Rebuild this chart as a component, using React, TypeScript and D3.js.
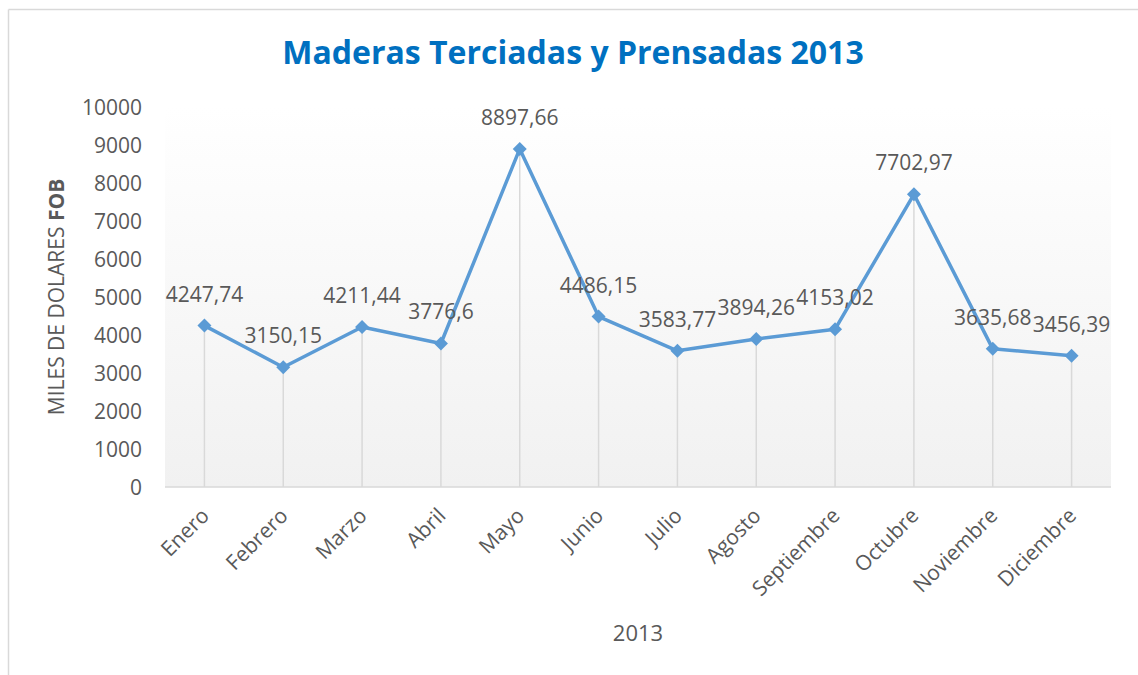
import React from 'react';
import { scaleBand, scaleLinear, line, range } from 'd3';

const months = ['Enero', 'Febrero', 'Marzo', 'Abril', 'Mayo', 'Junio', 'Julio', 'Agosto', 'Septiembre', 'Octubre', 'Noviembre', 'Diciembre'];
const values = [4247.74, 3150.15, 4211.44, 3776.6, 8897.66, 4486.15, 3583.77, 3894.26, 4153.02, 7702.97, 3635.68, 3456.39];
const yTicks = range(0, 10001, 1000);
const title = 'Maderas Terciadas y Prensadas 2013';
const xTitle = '2013';

const App = () => {
  const width = 1138;
  const height = 675;
  const plot = { left: 165, right: 1111, top: 107, bottom: 487 };
  const font = "'Open Sans', sans-serif";
  const blue = '#5b9bd5';
  const textColor = '#595959';

  const x = scaleBand().domain(months).range([plot.left, plot.right]);
  const cx = (m) => x(m) + x.bandwidth() / 2;
  const y = scaleLinear().domain([0, 10000]).range([plot.bottom, plot.top]);

  const pts = months.map((m, i) => ({ m, v: values[i] }));
  const path = line().x((d) => cx(d.m)).y((d) => y(d.v))(pts);

  return (
    <svg width={width} height={height} style={{ position: 'absolute', left: 0, top: 0, background: '#fff' }} fontFamily={font}>
      <defs>
        <linearGradient id="plotBg" x1="0" y1="0" x2="0" y2="1">
          <stop offset="0" stopColor="#ffffff" />
          <stop offset="1" stopColor="#f1f1f1" />
        </linearGradient>
      </defs>
      {/* chart border */}
      <line x1={8.5} y1={9.5} x2={width} y2={9.5} stroke="#d9d9d9" strokeWidth={1.5} />
      <line x1={8.5} y1={9.5} x2={8.5} y2={height} stroke="#d9d9d9" strokeWidth={1.5} />

      <text x={573} y={64} textAnchor="middle" fontSize={32} fontWeight="bold" fill="#0070c0">{title}</text>

      <rect x={plot.left} y={plot.top} width={plot.right - plot.left} height={plot.bottom - plot.top} fill="url(#plotBg)" />

      {/* y ticks */}
      {yTicks.map((t) => (
        <text key={t} x={142} y={y(t)} dy="0.36em" textAnchor="end" fontSize={21} fill={textColor}>{t}</text>
      ))}

      {/* drop lines */}
      {pts.map((d) => (
        <line key={d.m} x1={cx(d.m)} x2={cx(d.m)} y1={y(d.v)} y2={plot.bottom} stroke="#d9d9d9" strokeWidth={1.5} />
      ))}

      <line x1={plot.left} x2={plot.right} y1={plot.bottom} y2={plot.bottom} stroke="#d9d9d9" strokeWidth={1.5} />

      <path d={path} fill="none" stroke={blue} strokeWidth={3.5} strokeLinejoin="round" />
      {pts.map((d) => (
        <path key={d.m} transform={`translate(${cx(d.m)},${y(d.v)})`} d="M0,-7 L7,0 L0,7 L-7,0 Z" fill={blue} />
      ))}

      {/* data labels */}
      {pts.map((d) => (
        <text key={d.m} x={cx(d.m)} y={y(d.v) - 24} textAnchor="middle" fontSize={21} fill={textColor}>{String(d.v).replace('.', ',')}</text>
      ))}

      {/* x labels */}
      {months.map((m) => (
        <text key={m} transform={`translate(${cx(m) + 6},${plot.bottom + 30}) rotate(-45)`} textAnchor="end" fontSize={21} fill={textColor}>{m}</text>
      ))}

      <text x={638} y={641} textAnchor="middle" fontSize={22} fill={textColor}>{xTitle}</text>

      <text transform={`translate(64,297) rotate(-90)`} textAnchor="middle" fontSize={21} fill={textColor}>
        MILES DE DOLARES <tspan fontWeight="bold">FOB</tspan>
      </text>
    </svg>
  );
};

export default App;
